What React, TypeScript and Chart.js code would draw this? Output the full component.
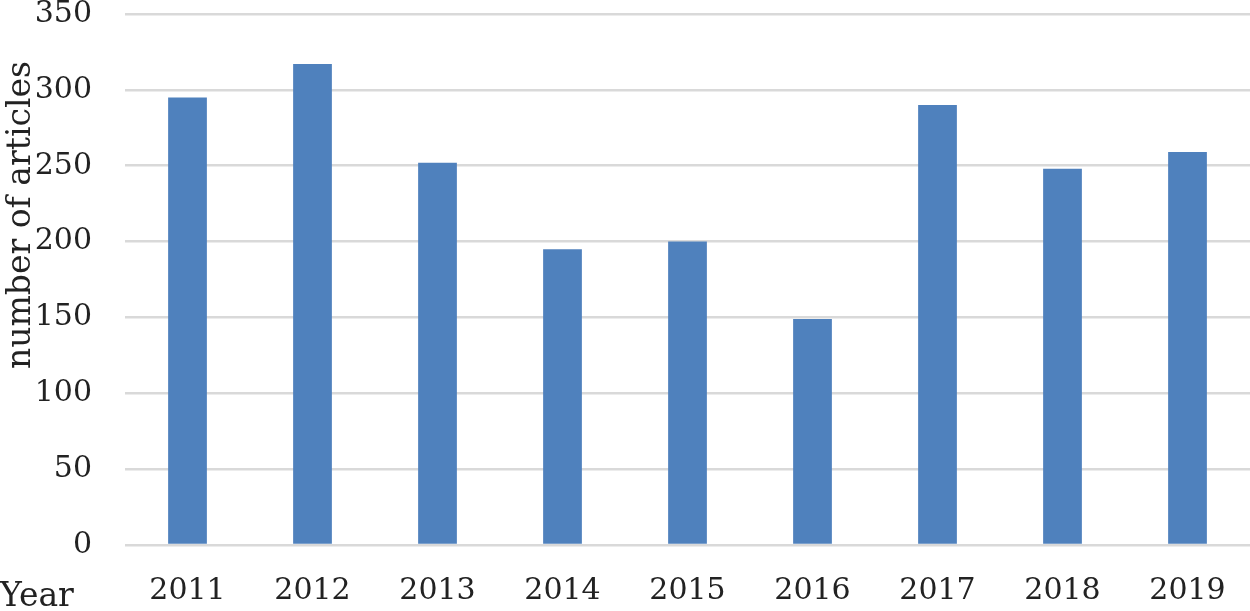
import React, { useEffect, useRef } from "react";
import { Chart, registerables } from "chart.js";

Chart.register(...registerables);

const categories = ["2011", "2012", "2013", "2014", "2015", "2016", "2017", "2018", "2019"];
const articleCounts = [295, 317, 252, 195, 200, 149, 290, 248, 259];
const yTitle = "number of articles";
const xTitle = "Year";

const FONT = "'DejaVu Serif', serif";

const textPlugin = {
  id: "extraText",
  afterDraw(chart: any) {
    const ctx = chart.ctx;
    ctx.save();
    ctx.fillStyle = "#222222";
    ctx.font = `33px ${FONT}`;
    ctx.textAlign = "left";
    ctx.textBaseline = "alphabetic";
    ctx.fillText(xTitle, 0, 606);
    ctx.translate(30, 215);
    ctx.rotate(-Math.PI / 2);
    ctx.textAlign = "center";
    ctx.fillText(yTitle, 0, 0);
    ctx.restore();
  },
};

export default function App() {
  const ref = useRef<HTMLCanvasElement>(null);
  useEffect(() => {
    if (!ref.current) return;
    const chart = new Chart(ref.current, {
      type: "bar",
      data: {
        labels: categories,
        datasets: [
          {
            data: articleCounts,
            backgroundColor: "#4f81bd",
            categoryPercentage: 1,
            barPercentage: 0.31,
          },
        ],
      },
      options: {
        animation: false,
        responsive: false,
        maintainAspectRatio: false,
        layout: { padding: { top: 14, left: 0, right: 0, bottom: 0 } },
        plugins: { legend: { display: false }, tooltip: { enabled: false } },
        scales: {
          x: {
            grid: { display: false, drawTicks: false },
            border: { display: false },
            ticks: { color: "#222222", font: { family: FONT, size: 30 }, padding: 28, maxRotation: 0 },
            afterFit(scale: any) {
              scale.height = 66;
              scale.paddingLeft = 0;
              scale.paddingRight = 0;
            },
          },
          y: {
            min: 0,
            max: 350,
            grid: { color: "#d9d9d9", lineWidth: 2.5, drawTicks: false },
            border: { display: false },
            ticks: { stepSize: 50, color: "#222222", font: { family: FONT, size: 30 }, padding: 33 },
            afterFit(scale: any) {
              scale.width = 125;
              scale.paddingTop = 0;
              scale.paddingBottom = 0;
            },
          },
        },
      },
      plugins: [textPlugin],
    });
    return () => chart.destroy();
  }, []);
  return (
    <div style={{ position: "absolute", left: 0, top: 0, width: 1250, height: 611, background: "#fff" }}>
      <canvas ref={ref} width={1250} height={611} />
    </div>
  );
}
